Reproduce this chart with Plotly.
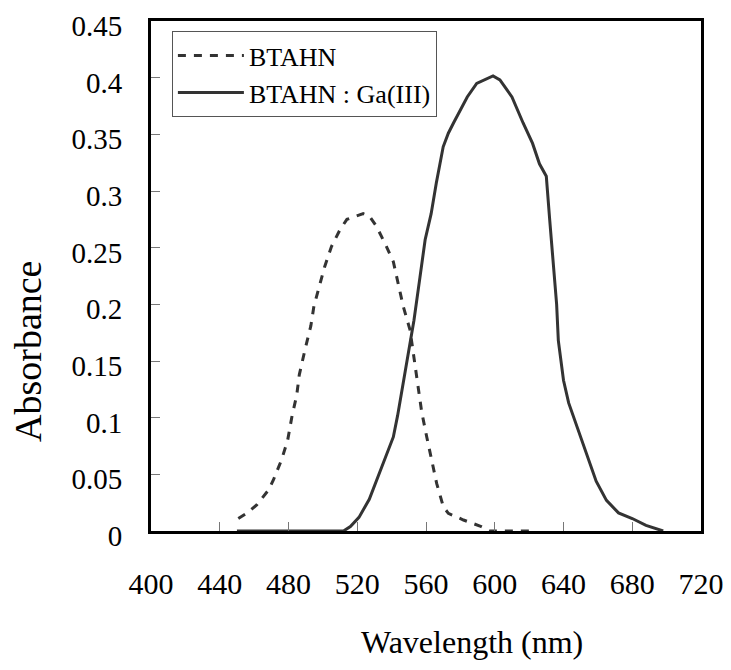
import plotly.graph_objects as go

# BTAHN : Ga(III) complex (solid)
wl_complex = [450, 470, 490, 512, 516, 521, 527, 533, 537, 541, 543.5, 546, 550, 553, 556.5, 559.5,
              563, 566, 570, 573, 576, 580, 584, 589.5, 594, 599, 603, 606, 610, 616.5, 622,
              626, 630, 632, 634, 636, 637, 640, 643, 648, 653.5, 659, 665, 672, 680, 688, 698]
abs_complex = [0, 0, 0, 0, 0.004, 0.012, 0.028, 0.051, 0.066, 0.083, 0.102, 0.124, 0.16, 0.186, 0.224, 0.257,
               0.28, 0.307, 0.339, 0.351, 0.36, 0.3715, 0.383, 0.395, 0.398, 0.4015, 0.398, 0.392, 0.383, 0.36, 0.342,
               0.324, 0.313, 0.274, 0.233, 0.2, 0.168, 0.133, 0.113, 0.092, 0.069, 0.044, 0.027, 0.016, 0.011, 0.005, 0]

# BTAHN reagent (dashed)
wl_reagent = [450.8, 456, 461.5, 468.3, 471.2, 476, 479.5, 482, 484.8, 486.3, 489.6, 493, 494.8, 498, 501,
              505, 510, 514, 523.5, 527, 531.3, 537, 541, 544, 546.8, 550.7, 552.6, 554.2, 556.1, 557.5,
              560.4, 563.9, 566.2, 570.1, 573, 581.8, 591.4, 597.2, 610, 624]
abs_reagent = [0.011, 0.016, 0.023, 0.036, 0.045, 0.063, 0.08, 0.101, 0.12, 0.138, 0.16, 0.181, 0.1985, 0.217, 0.233,
               0.251, 0.266, 0.275, 0.28, 0.278, 0.2685, 0.251, 0.2376, 0.217, 0.198, 0.1774, 0.158, 0.1406, 0.123, 0.105,
               0.0832, 0.0597, 0.042, 0.0214, 0.0156, 0.0097, 0.0044, 0, 0, 0]

x_ticks = [400, 440, 480, 520, 560, 600, 640, 680, 720]
y_ticks = [0, 0.05, 0.1, 0.15, 0.2, 0.25, 0.3, 0.35, 0.4, 0.45]
y_ticktext = ["0", "0.05", "0.1", "0.15", "0.2", "0.25", "0.3", "0.35", "0.4", "0.45"]

FONT = "Liberation Serif"
LINE_COLOR = "#333333"

# page body has an 8px margin: plot area target (page px) x 151..701, y 21..531
fig = go.Figure()
fig.add_trace(go.Scatter(x=wl_reagent, y=abs_reagent, mode="lines", name="BTAHN",
                         line=dict(color=LINE_COLOR, width=3, dash="8px,8px")))
fig.add_trace(go.Scatter(x=wl_complex, y=abs_complex, mode="lines", name="BTAHN : Ga(III)",
                         line=dict(color=LINE_COLOR, width=3)))

fig.update_layout(
    width=723, height=654,
    margin=dict(l=143, r=30, t=13, b=131, autoexpand=False),
    paper_bgcolor="white", plot_bgcolor="white",
    font=dict(family=FONT, size=30, color="black"),
    showlegend=True,
    legend=dict(x=0.038, y=0.98, xanchor="left", yanchor="top",
                bgcolor="white", bordercolor="#555555", borderwidth=1,
                font=dict(family=FONT, size=26), itemwidth=66,
                tracegroupgap=0),
    xaxis=dict(range=[400, 720], tickmode="array", tickvals=x_ticks,
               showline=True, linecolor="black", linewidth=3, mirror=True,
               ticks="inside", ticklen=9, tickcolor="#777777", tickwidth=1,
               showgrid=False, zeroline=False, ticklabelstandoff=24,
               ticklabeloverflow="allow", automargin=False,
               tickfont=dict(family=FONT, size=30)),
    yaxis=dict(range=[0, 0.45], tickmode="array", tickvals=y_ticks, ticktext=y_ticktext,
               showline=True, linecolor="black", linewidth=3, mirror=True,
               ticks="inside", ticklen=9, tickcolor="#777777", tickwidth=1,
               showgrid=False, zeroline=False, ticklabelstandoff=20, ticklabelshift=5,
               ticklabeloverflow="allow", automargin=False,
               tickfont=dict(family=FONT, size=29)),
    annotations=[
        dict(text="Wavelength (nm)", xref="paper", yref="paper",
             x=(472 - 151) / 550, y=-(642 - 531) / 510, xanchor="center", yanchor="middle",
             showarrow=False, font=dict(family=FONT, size=32)),
        dict(text="Absorbance", xref="paper", yref="paper",
             x=-(151 - 28) / 550, y=(531 - 352) / 510, xanchor="center", yanchor="middle",
             textangle=-90, showarrow=False, font=dict(family=FONT, size=38)),
    ],
)

fig.write_html("out.html")
